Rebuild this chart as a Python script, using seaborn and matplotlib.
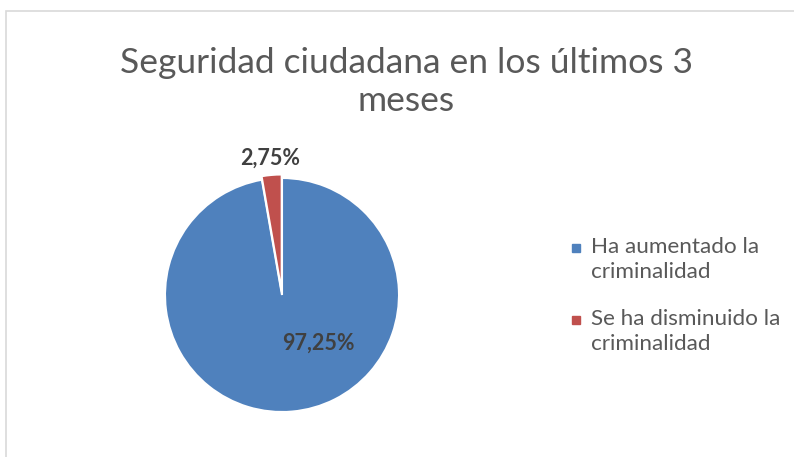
import matplotlib
matplotlib.use("Agg")
import matplotlib.pyplot as plt
import seaborn as sns
from matplotlib.patches import Rectangle
from matplotlib.lines import Line2D
from matplotlib.legend_handler import HandlerLine2D

categories = ["Ha aumentado la criminalidad", "Se ha disminuido la criminalidad"]
legend_labels = ["Ha aumentado la\ncriminalidad", "Se ha disminuido la\ncriminalidad"]
values = [97.25, 2.75]
colors = ["#4F81BD", "#C0504D"]
title = "Seguridad ciudadana en los últimos 3\nmeses"

sns.set_theme(style="white")
plt.rcParams['font.family'] = ['Lato', 'DejaVu Sans']

fig = plt.figure(figsize=(7.94, 4.57), dpi=100)
fig.patch.set_facecolor("white")

# outer border (chart area)
fig.add_artist(Rectangle((6/794, -0.1), 1.1, 1 - 11/457 + 0.1, transform=fig.transFigure,
                         fill=False, edgecolor="#D9D9D9", linewidth=1.2))

cx, cy, r = 282, 295, 117
ax = fig.add_axes([(cx - r)/794, 1 - (cy + r)/457, 2*r/794, 2*r/457])
wedges, _ = ax.pie(values, colors=colors, startangle=90, counterclock=False,
                   explode=[0, 0.03],
                   wedgeprops=dict(edgecolor="white", linewidth=1.5))
ax.set_xlim(-1, 1)
ax.set_ylim(-1, 1)
ax.set_aspect("auto")
ax.axis("off")

label_pos = [(0.31, -0.41), (-0.10, 1.17)]
for v, (x, y) in zip(values, label_pos):
    ax.text(x, y, f"{v:.2f}%".replace(".", ","), ha="center", va="center",
            fontsize=15.5, fontweight="bold", color="#404040", clip_on=False)

fig.text(406/794, 1 - 82/457, title, ha="center", va="center", fontsize=25.5,
         color="#595959", fontweight="normal", linespacing=1.2)


class TopAlignedHandler(HandlerLine2D):
    def create_artists(self, legend, orig_handle, xdescent, ydescent, width,
                       height, fontsize, trans):
        shift = fontsize * 1.05
        return super().create_artists(legend, orig_handle, xdescent, ydescent - shift,
                                      width, height, fontsize, trans)


handles = [Line2D([0], [0], marker="s", linestyle="none", markersize=6.3,
                  markerfacecolor=c, markeredgecolor=c) for c in colors]
leg_fs = 16.2
fig.legend(handles, legend_labels, loc="upper left", bbox_to_anchor=(558/794, 1 - 228/457),
           frameon=False, prop=dict(size=leg_fs), labelcolor="#595959", handletextpad=0.25,
           handlelength=0.8, labelspacing=1.2, borderaxespad=0,
           handler_map={Line2D: TopAlignedHandler()})
for t in fig.legends[0].get_texts():
    t.set_linespacing(1.3)

fig.savefig("out.png", dpi=100, facecolor="white")
